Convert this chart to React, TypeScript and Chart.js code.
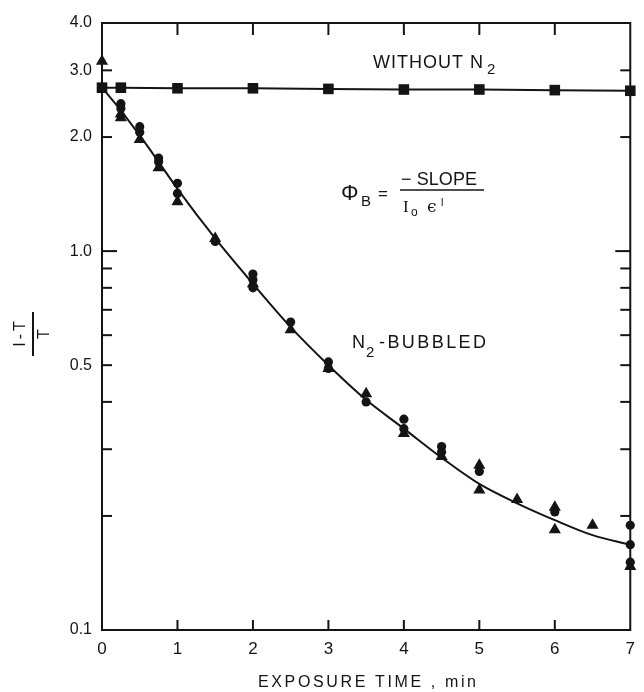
import React, { useEffect, useRef } from "react";
import { Chart, registerables } from "chart.js";

Chart.register(...registerables);

// ---- data ----
const xTickValues = [0, 1, 2, 3, 4, 5, 6, 7];
const yLabelTicks = [0.1, 0.5, 1, 2, 3, 4];
const yMinorTicks = [0.1, 0.2, 0.3, 0.4, 0.5, 0.6, 0.7, 0.8, 0.9, 1, 2, 3, 4];

// WITHOUT N2 (squares)
const noN2X = [0, 0.25, 1, 2, 3, 4, 5, 6, 7];
const noN2Y = [2.7, 2.7, 2.69, 2.69, 2.68, 2.67, 2.67, 2.66, 2.65];

// N2-bubbled, circles
const circX = [0.25, 0.25, 0.5, 0.5, 0.75, 0.75, 1, 1, 1.5, 2, 2, 2, 2.5, 3, 3, 3.5, 4, 4, 4.5, 4.5, 5, 6, 7, 7, 7];
const circY = [2.45, 2.38, 2.13, 2.06, 1.76, 1.72, 1.51, 1.42, 1.06, 0.87, 0.84, 0.8, 0.65, 0.51, 0.49, 0.4, 0.36, 0.34, 0.305, 0.295, 0.262, 0.205, 0.189, 0.168, 0.151];

// N2-bubbled, triangles
const triX = [0, 0.25, 0.25, 0.5, 0.75, 1, 1.5, 2, 2.5, 3, 3.5, 4, 4.5, 5, 5, 5.5, 6, 6, 6.5, 7];
const triY = [3.17, 2.3, 2.25, 1.97, 1.66, 1.35, 1.08, 0.82, 0.62, 0.49, 0.42, 0.33, 0.287, 0.272, 0.234, 0.221, 0.211, 0.184, 0.189, 0.147];

// fitted curve through the N2-bubbled data
const fitX = [0, 0.25, 0.5, 0.75, 1, 1.5, 2, 2.5, 3, 3.5, 4, 4.5, 5, 5.5, 6, 6.5, 7];
const fitY = [2.7, 2.35, 2.02, 1.72, 1.46, 1.08, 0.82, 0.63, 0.5, 0.405, 0.34, 0.285, 0.243, 0.216, 0.195, 0.178, 0.168];

const INK = "#141414";
const FONT = "'Liberation Sans', Arial, sans-serif";

const pts = (xs: number[], ys: number[]) => xs.map((x, i) => ({ x, y: ys[i] }));

function fitText(ctx: CanvasRenderingContext2D, text: string, x: number, y: number, width: number, font: string) {
  ctx.font = font;
  (ctx as any).letterSpacing = "0px";
  const w = ctx.measureText(text).width;
  const n = Array.from(text).length;
  const sp = n > 1 ? (width - w) / (n - 1) : 0;
  (ctx as any).letterSpacing = sp + "px";
  ctx.textAlign = "left";
  ctx.textBaseline = "alphabetic";
  ctx.fillText(text, x, y);
  (ctx as any).letterSpacing = "0px";
}

function plain(ctx: CanvasRenderingContext2D, text: string, x: number, y: number, font: string, align: CanvasTextAlign = "left") {
  ctx.font = font;
  (ctx as any).letterSpacing = "0px";
  ctx.textAlign = align;
  ctx.textBaseline = "alphabetic";
  ctx.fillText(text, x, y);
}

const framePlugin = {
  id: "framePlugin",
  afterDraw(chart: any) {
    const { ctx, chartArea: a, scales } = chart;
    const xs = scales.x;
    const ys = scales.y;
    ctx.save();
    ctx.strokeStyle = INK;
    ctx.fillStyle = INK;
    ctx.lineWidth = 2;
    ctx.lineCap = "butt";
    ctx.strokeRect(a.left, a.top, a.right - a.left, a.bottom - a.top);
    const seg = (x1: number, y1: number, x2: number, y2: number) => {
      ctx.beginPath();
      ctx.moveTo(x1, y1);
      ctx.lineTo(x2, y2);
      ctx.stroke();
    };
    for (const v of xTickValues) {
      if (v === 0 || v === 7) continue;
      const px = xs.getPixelForValue(v);
      seg(px, a.bottom, px, a.bottom - 10);
      seg(px, a.top, px, a.top + 12);
    }
    for (const v of yMinorTicks) {
      if (v === 0.1 || v === 4) continue;
      const py = ys.getPixelForValue(v);
      const len = v === 1 ? 15 : 10;
      seg(a.left, py, a.left + len, py);
      seg(a.right, py, a.right - len, py);
    }

    // annotations
    fitText(ctx, "WITHOUT N", 373, 68, 110, `18px ${FONT}`);
    plain(ctx, "2", 487, 74, `15px ${FONT}`);

    fitText(ctx, "N", 352, 348, 13, `18px ${FONT}`);
    plain(ctx, "2", 366, 357, `15px ${FONT}`);
    fitText(ctx, "-BUBBLED", 379, 348, 107, `18px ${FONT}`);

    // formula
    plain(ctx, "Φ", 341, 200, `22px ${FONT}`);
    plain(ctx, "B", 361, 206, `15px ${FONT}`);
    plain(ctx, "=", 378, 199, `17px ${FONT}`);
    fitText(ctx, "− SLOPE", 401, 185, 76, `18px ${FONT}`);
    ctx.lineWidth = 1.6;
    seg(400, 190, 484, 190);
    plain(ctx, "I", 403, 212, `17px 'Liberation Serif', serif`);
    plain(ctx, "o", 411, 216, `12px ${FONT}`);
    plain(ctx, "ϵ", 427, 212, `17px 'DejaVu Serif', serif`);
    plain(ctx, "l", 441, 206, `11px ${FONT}`);

    // x-axis title
    fitText(ctx, "EXPOSURE TIME , min", 258, 687, 218, `16px ${FONT}`);

    // y-axis title (rotated fraction)
    ctx.save();
    ctx.translate(33, 334);
    ctx.rotate(-Math.PI / 2);
    ctx.font = `16px ${FONT}`;
    (ctx as any).letterSpacing = "3px";
    ctx.textAlign = "center";
    ctx.textBaseline = "middle";
    ctx.fillText("I-T", 1.5, -12);
    (ctx as any).letterSpacing = "0px";
    ctx.fillText("T", 0, 12);
    ctx.lineWidth = 2;
    seg(-22, 0, 22, 0);
    ctx.restore();

    ctx.restore();
  },
};

export default function App() {
  const ref = useRef<HTMLCanvasElement | null>(null);

  useEffect(() => {
    if (!ref.current) return;
    const chart = new Chart(ref.current, {
      type: "scatter",
      data: {
        datasets: [
          {
            label: "fit",
            data: pts(fitX, fitY),
            showLine: true,
            borderColor: INK,
            borderWidth: 2,
            pointRadius: 0,
            cubicInterpolationMode: "monotone",
            order: 4,
          } as any,
          {
            label: "WITHOUT N2",
            data: pts(noN2X, noN2Y),
            showLine: true,
            borderColor: INK,
            borderWidth: 2,
            backgroundColor: INK,
            pointStyle: "rect",
            pointRadius: 7.5,
            pointBorderWidth: 0,
            order: 3,
          },
          {
            label: "N2-BUBBLED circles",
            data: pts(circX, circY),
            backgroundColor: INK,
            borderColor: INK,
            pointStyle: "circle",
            pointRadius: 4.6,
            pointBorderWidth: 0,
            order: 1,
          },
          {
            label: "N2-BUBBLED triangles",
            data: pts(triX, triY),
            backgroundColor: INK,
            borderColor: INK,
            pointStyle: "triangle",
            pointRadius: 7,
            pointBorderWidth: 0,
            order: 2,
          },
        ],
      },
      options: {
        animation: false,
        responsive: false,
        clip: false as any,
        layout: { padding: { left: 8, top: 23, right: 6, bottom: 0 } },
        plugins: { legend: { display: false }, tooltip: { enabled: false } },
        scales: {
          x: {
            type: "linear",
            min: 0,
            max: 7,
            grid: { display: false, drawTicks: false },
            border: { display: false },
            ticks: {
              stepSize: 1,
              padding: 9,
              color: INK,
              font: { family: FONT, size: 17 },
              callback: (v: any) => String(v),
            },
            afterFit: (s: any) => {
              s.height = 62;
            },
          },
          y: {
            type: "logarithmic",
            min: 0.1,
            max: 4,
            grid: { display: false, drawTicks: false },
            border: { display: false },
            afterBuildTicks: (s: any) => {
              s.ticks = yLabelTicks.map((v) => ({ value: v }));
            },
            ticks: {
              padding: 10,
              color: INK,
              font: { family: FONT, size: 16 },
              autoSkip: false,
              callback: (v: any) => Number(v).toFixed(1),
            },
            afterFit: (s: any) => {
              s.width = 94;
            },
          },
        },
      },
      plugins: [framePlugin],
    });
    return () => chart.destroy();
  }, []);

  return (
    <div style={{ position: "fixed", left: 0, top: 0, width: 644, height: 692, background: "#fff" }}>
      <canvas ref={ref} width={644} height={692} style={{ width: 644, height: 692, display: "block" }} />
    </div>
  );
}
